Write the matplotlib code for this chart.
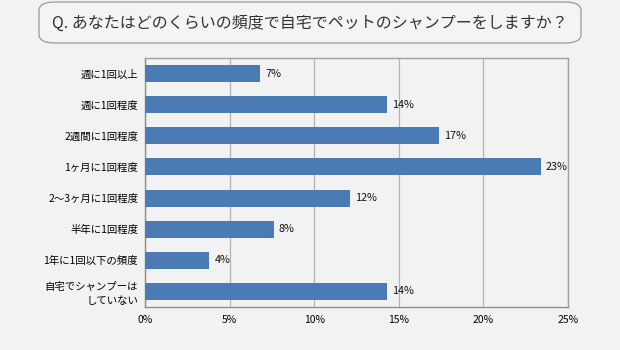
import matplotlib.pyplot as plt
from matplotlib.patches import FancyBboxPatch

plt.rcParams['font.family'] = ['Noto Sans CJK JP', 'DejaVu Sans']

categories = ['週に1回以上', '週に1回程度', '2週間に1回程度', '1ヶ月に1回程度',
              '2～3ヶ月に1回程度', '半年に1回程度', '1年に1回以下の頻度',
              '自宅でシャンプーは\nしていない']
values = [6.8, 14.3, 17.4, 23.4, 12.1, 7.6, 3.8, 14.3]
labels = ['7%', '14%', '17%', '23%', '12%', '8%', '4%', '14%']
xticks = [0, 5, 10, 15, 20, 25]

bg = '#f2f2f2'
fig = plt.figure(figsize=(6.2, 3.5), dpi=100, facecolor=bg)
ax = fig.add_axes([145/620, (350-307)/350, (568-145)/620, (307-58)/350])
ax.set_facecolor(bg)

y = list(range(len(categories)))
ax.barh(y, values, height=0.55, color='#4a7bb5', zorder=3)
for yi, v, lab in zip(y, values, labels):
    ax.text(v + 0.3, yi, lab, va='center', ha='left', fontsize=7.8, color='#111111')

ax.set_ylim(len(categories) - 0.5, -0.5)
ax.set_xlim(0, 25)
ax.set_yticks(y)
ax.set_yticklabels(categories, fontsize=7.5, linespacing=1.4)
ax.set_xticks(xticks)
ax.set_xticklabels([f'{t}%' for t in xticks], fontsize=7.5)
ax.tick_params(axis='x', length=0, pad=6)
ax.tick_params(axis='y', length=0, pad=5)
ax.grid(axis='x', color='#b4b4b4', linewidth=0.9, zorder=0)
for s in ax.spines.values():
    s.set_color('#a0a0a0')
    s.set_linewidth(1.0)
ax.spines['left'].set_color('#8c8c8c')
ax.spines['bottom'].set_color('#8c8c8c')

# title box
box = FancyBboxPatch((39/620, (350-43)/350), (581-39)/620, 41/350,
                     boxstyle='round,pad=0,rounding_size=0.025',
                     transform=fig.transFigure, facecolor='#f4f4f4',
                     edgecolor='#9a9a9a', linewidth=0.9)
fig.patches.append(box)
fig.text(310/620, (350-23)/350, 'Q. あなたはどのくらいの頻度で自宅でペットのシャンプーをしますか？',
         ha='center', va='center', fontsize=11.5, color='#333333')

fig.savefig('out.png', dpi=100, facecolor=bg)
